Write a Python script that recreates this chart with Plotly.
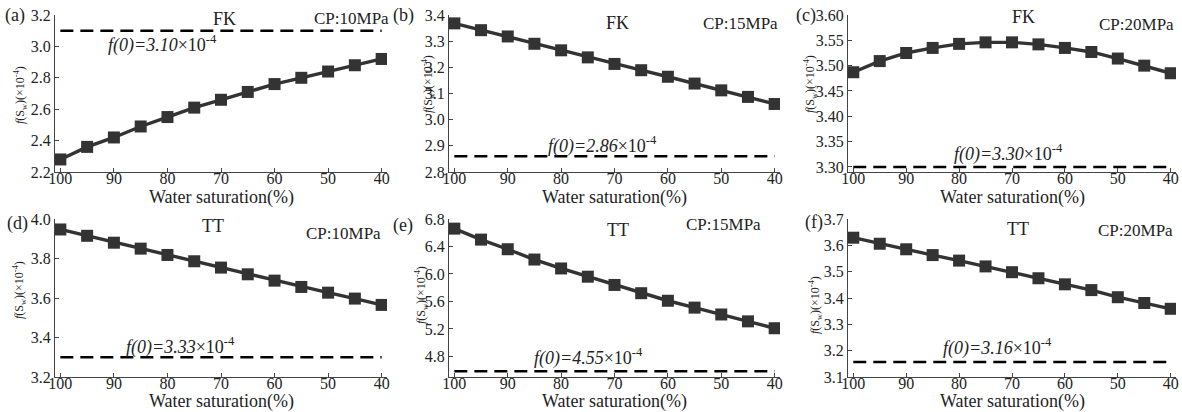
import plotly.graph_objects as go

W, H = 1182, 412

water_saturation = [100, 95, 90, 85, 80, 75, 70, 65, 60, 55, 50, 45, 40]
x_ticks = [100, 90, 80, 70, 60, 50, 40]

f_a = [2.28, 2.36, 2.42, 2.49, 2.55, 2.61, 2.66, 2.71, 2.76, 2.80, 2.84, 2.88, 2.92]
f_b = [3.368, 3.342, 3.318, 3.290, 3.265, 3.238, 3.213, 3.189, 3.164, 3.138, 3.112, 3.087, 3.060]
f_c = [3.487, 3.509, 3.525, 3.535, 3.543, 3.546, 3.546, 3.542, 3.535, 3.527, 3.514, 3.500, 3.485]
f_d = [3.947, 3.915, 3.880, 3.850, 3.818, 3.786, 3.754, 3.720, 3.688, 3.656, 3.627, 3.597, 3.565]
f_e = [6.66, 6.50, 6.36, 6.21, 6.08, 5.96, 5.84, 5.72, 5.61, 5.51, 5.41, 5.31, 5.21]
f_f = [3.629, 3.606, 3.585, 3.563, 3.542, 3.520, 3.498, 3.475, 3.452, 3.430, 3.403, 3.381, 3.359]

f0_line = [3.10, 2.86, 3.30, 3.30, 4.585, 3.157]
f0_text = ["3.10", "2.86", "3.30", "3.33", "4.55", "3.16"]
panel_tags = ["(a)", "(b)", "(c)", "(d)", "(e)", "(f)"]
rock_types = ["FK", "FK", "FK", "TT", "TT", "TT"]
pressures = ["CP:10MPa", "CP:15MPa", "CP:20MPa", "CP:10MPa", "CP:15MPa", "CP:20MPa"]

y_ticks = [
    [2.2, 2.4, 2.6, 2.8, 3.0, 3.2],
    [2.8, 2.9, 3.0, 3.1, 3.2, 3.3, 3.4],
    [3.30, 3.35, 3.40, 3.45, 3.50, 3.55, 3.60],
    [3.2, 3.4, 3.6, 3.8, 4.0],
    [4.8, 5.2, 5.6, 6.0, 6.4, 6.8],
    [3.1, 3.2, 3.3, 3.4, 3.5, 3.6, 3.7],
]
y_fmt = [".1f", ".1f", ".2f", ".1f", ".1f", ".1f"]
y_ranges = [[2.2, 3.2], [2.8, 3.4], [3.29, 3.60], [3.2, 4.0], [4.5, 6.8], [3.1, 3.7]]
series = [f_a, f_b, f_c, f_d, f_e, f_f]

# layout in pixels
x_dom_px = [[55, 387], [449, 780], [848, 1176]]
y_dom_px = [[15, 172], [219, 377]]

# annotation positions (pixels)
tag_pos = [(15, 16), (403, 16), (806, 16), (17, 223), (403, 225), (814, 222)]
rock_pos = [(225, 19), (617, 23), (1023, 17), (213, 226), (618, 230), (1018, 229)]
cp_pos = [(351, 19), (740, 24), (1136, 25), (343, 233), (723, 224), (1135, 230)]
f0_pos = [(162, 44), (602, 145), (1008, 153), (180, 346), (588, 357), (997, 347)]
ytitle_pos = [(20, 95), (428, 84), (810, 84), (19, 290), (421, 295), (815, 305)]
xtitle_y = [197, 197, 197, 401, 401, 401]

FONT = "Liberation Serif"
LINE_C = "#333333"


def px(x):
    return x / W


def py(y):
    return 1 - y / H


fig = go.Figure()
layout = dict(
    width=W, height=H,
    margin=dict(l=0, r=0, t=0, b=0),
    paper_bgcolor="white", plot_bgcolor="white",
    showlegend=False,
    font=dict(family=FONT, color="#222222", size=16),
)
annotations = []

for i in range(6):
    r, c = divmod(i, 3)
    n = i + 1
    xa = "x" if n == 1 else f"x{n}"
    ya = "y" if n == 1 else f"y{n}"
    xd = [px(x_dom_px[c][0]), px(x_dom_px[c][1])]
    yd = [py(y_dom_px[r][1]), py(y_dom_px[r][0])]
    axis_common = dict(
        showgrid=False, zeroline=False, showline=True, linecolor="#444444",
        linewidth=1.2, ticks="inside", ticklen=4, tickcolor="#444444",
        tickfont=dict(family=FONT, size=16, color="#222222"), automargin=False,
    )
    layout["xaxis" if n == 1 else f"xaxis{n}"] = dict(
        domain=xd, anchor=ya, range=[101, 39], tickvals=x_ticks,
        ticktext=[str(v) for v in x_ticks], ticklabelstandoff=-8, **axis_common)
    layout["yaxis" if n == 1 else f"yaxis{n}"] = dict(
        domain=yd, anchor=xa, range=y_ranges[i], tickvals=y_ticks[i],
        ticktext=[format(v, y_fmt[i]) for v in y_ticks[i]], **axis_common)

    fig.add_trace(go.Scatter(
        x=[water_saturation[0], water_saturation[-1]], y=[f0_line[i], f0_line[i]],
        mode="lines", line=dict(color="black", width=2.5, dash="13px,7px"),
        xaxis=xa, yaxis=ya, hoverinfo="skip"))
    fig.add_trace(go.Scatter(
        x=water_saturation, y=series[i], mode="lines+markers",
        line=dict(color=LINE_C, width=3.4),
        marker=dict(symbol="square", size=12, color=LINE_C),
        xaxis=xa, yaxis=ya))

    def ann(text, pos, size, **kw):
        d = dict(text=text, x=px(pos[0]), y=py(pos[1]), xref="paper", yref="paper",
                 showarrow=False, xanchor="center", yanchor="middle",
                 font=dict(family=FONT, size=size, color="#222222"))
        d.update(kw)
        annotations.append(d)

    ann(panel_tags[i], tag_pos[i], 18)
    ann(rock_types[i], rock_pos[i], 18)
    ann(pressures[i], cp_pos[i], 17)
    ann(f"<i>f(0)=%s</i>×10<sup>-4</sup>" % f0_text[i], f0_pos[i], 18)
    ann("<i>f</i>(S<sub>w</sub>)(×10<sup>-4</sup>)", ytitle_pos[i], 12, textangle=-90)
    cx = (x_dom_px[c][0] + x_dom_px[c][1]) / 2
    ann("Water saturation(%)", (cx, xtitle_y[i]), 18)

layout["annotations"] = annotations
fig.update_layout(**layout)
fig.write_html("out.html", config={"displayModeBar": False},
               post_script="document.body.style.margin='0px';")
